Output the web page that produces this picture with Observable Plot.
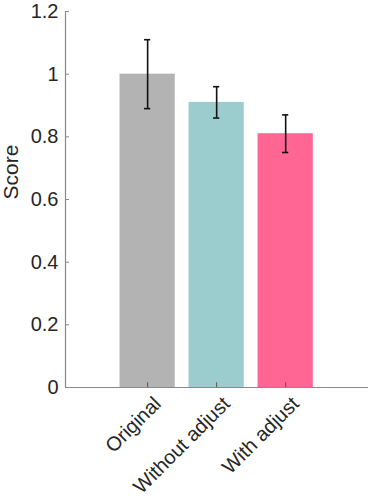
<!DOCTYPE html>
<html><head><meta charset="utf-8">
<script src="https://cdn.jsdelivr.net/npm/d3@7"></script>
<script src="https://cdn.jsdelivr.net/npm/@observablehq/plot@0.6"></script>
<style>body{margin:0;background:#fff}</style>
</head><body><div id="chart"></div>
<script>
const categories = ["Original", "Without adjust", "With adjust"];
const scores = [1.0, 0.91, 0.81];
const errLow = [0.89, 0.86, 0.75];
const errHigh = [1.11, 0.96, 0.87];
const barColors = ["#b3b3b3", "#9ccdce", "#ff6694"];
const yTicks = [0, 0.2, 0.4, 0.6, 0.8, 1, 1.2];

const data = categories.map((c, i) => ({cat: c, pos: i + 1, score: scores[i], lo: errLow[i], hi: errHigh[i], color: barColors[i]}));
const xMin = -0.19, xMax = 4.2;
const barHalf = 0.4, capHalf = 0.045;
const axisColor = "#8a8a8a", textColor = "#262626";

const chart = Plot.plot({
  width: 374, height: 504,
  marginLeft: 65, marginRight: 6, marginTop: 11, marginBottom: 117,
  style: {fontFamily: "'Liberation Sans', Arial, sans-serif", color: textColor, background: "#fff", overflow: "visible"},
  x: {domain: [xMin, xMax]},
  y: {domain: [0, 1.2]},
  color: {type: "identity"},
  marks: [
    Plot.rectY(data, {x1: d => d.pos - barHalf, x2: d => d.pos + barHalf, y1: 0, y2: "score", fill: "color"}),
    Plot.ruleY([0], {stroke: axisColor, strokeWidth: 1.2}),
    Plot.ruleX([xMin], {stroke: axisColor, strokeWidth: 1.2}),
    Plot.ruleY(yTicks, {x1: xMin, x2: xMin + 4 / 69, stroke: axisColor}),
    Plot.ruleX(data, {x: "pos", y1: 0, y2: 0.015, stroke: "#555"}),
    Plot.ruleX(data, {x: "pos", y1: "lo", y2: "hi", stroke: "#111", strokeWidth: 1.6}),
    Plot.ruleY(data, {x1: d => d.pos - capHalf, x2: d => d.pos + capHalf, y: "lo", stroke: "#111", strokeWidth: 1.6}),
    Plot.ruleY(data, {x1: d => d.pos - capHalf, x2: d => d.pos + capHalf, y: "hi", stroke: "#111", strokeWidth: 1.6}),
    Plot.axisY({ticks: yTicks, tickSize: 0, tickPadding: 7, tickFormat: d => String(d), label: null, fontSize: 20}),
    Plot.axisX({ticks: [1, 2, 3], tickFormat: i => categories[i - 1], tickRotate: -45, tickSize: 0, tickPadding: 13, dx: 10, label: null, fontSize: 20}),
    Plot.text(["Score"], {frameAnchor: "left", dx: -54, rotate: -90, fontSize: 21})
  ]
});
document.getElementById("chart").appendChild(chart);
chart.querySelectorAll("text").forEach(t => {
  const s = t.textContent;
  let size = null;
  if (categories.includes(s)) size = "20px";
  else if (s === "Score") size = "21px";
  else if (yTicks.map(String).includes(s)) size = "20px";
  if (size) {
    t.style.setProperty("font-size", size, "important");
    t.style.setProperty("fill", textColor, "important");
  }
});
</script>
</body></html>
